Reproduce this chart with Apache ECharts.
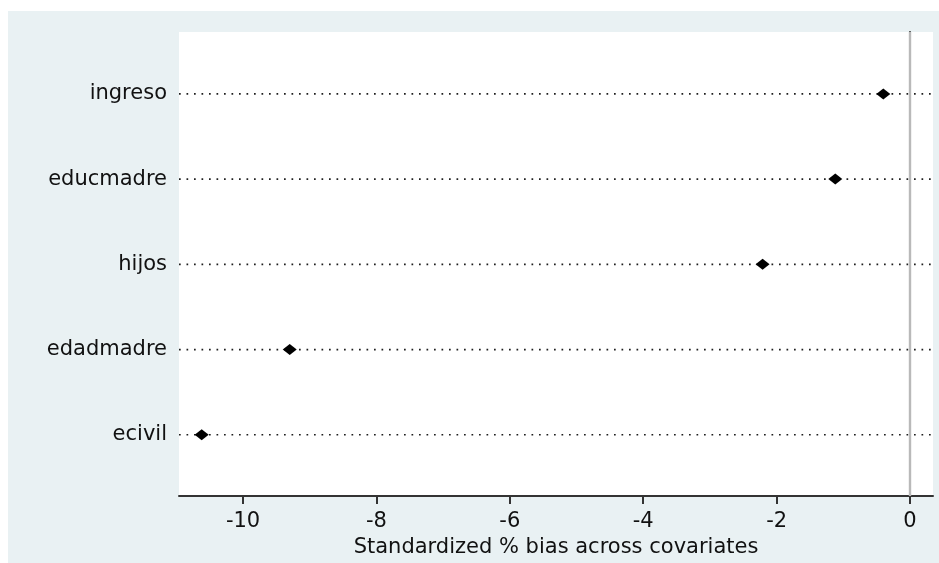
<!DOCTYPE html>
<html>
<head>
<meta charset="utf-8">
<title>Standardized % bias across covariates</title>
<script src="https://cdn.jsdelivr.net/npm/echarts@6/dist/echarts.min.js"></script>
<style>
  html, body { margin: 0; padding: 0; background: #ffffff; overflow: hidden; }
  #chart { width: 939px; height: 563px; }
</style>
</head>
<body>
<div id="chart"></div>
<script>
// Covariates, listed top to bottom
const categories = ['ingreso', 'educmadre', 'hijos', 'edadmadre', 'ecivil'];
// Standardized % bias for each covariate
const biasValues = [-0.40, -1.12, -2.21, -9.30, -10.62];
// X-axis tick values
const xTicks = [-10, -8, -6, -4, -2, 0];
const xTitle = 'Standardized % bias across covariates';

// Axis ranges
const xMin = -10.96, xMax = 0.345;
const yMin = 0.28, yMax = 5.7265;

const n = categories.length;
const rowPos = categories.map((c, i) => n - i);

const textColor = '#111111';
const fontFamily = '"DejaVu Sans", sans-serif';

// Dotted guide line across the plot for each covariate row
const dotSeries = categories.map((c, i) => ({
  type: 'line',
  silent: true,
  symbol: 'none',
  z: 2,
  lineStyle: { color: '#1e1e1e', width: 1.7, type: [1.7, 5.8] },
  data: [[xMin, rowPos[i]], [xMax, rowPos[i]]]
}));

const chart = echarts.init(document.getElementById('chart'));
chart.setOption({
  animation: false,
  graphic: [{
    type: 'rect',
    z: -100,
    silent: true,
    shape: { x: 8, y: 11, width: 931, height: 552 },
    style: { fill: '#E9F1F3' }
  }],
  grid: {
    left: 179, right: 6, top: 32, bottom: 64,
    show: true, backgroundColor: '#ffffff', borderWidth: 0
  },
  xAxis: {
    type: 'value',
    min: xMin, max: xMax,
    name: xTitle,
    nameLocation: 'middle',
    nameGap: 27,
    nameTextStyle: { color: textColor, fontFamily: fontFamily, fontSize: 21 },
    axisLine: { show: true, lineStyle: { color: '#333333', width: 2 } },
    axisTick: { show: true, length: 8, customValues: xTicks, lineStyle: { color: '#333333', width: 2 } },
    axisLabel: { customValues: xTicks, margin: 15, color: textColor, fontFamily: fontFamily, fontSize: 21 },
    splitLine: { show: false }
  },
  yAxis: {
    type: 'value',
    min: yMin, max: yMax,
    axisLine: { show: true, lineStyle: { color: '#333333', width: 2 } },
    axisTick: { show: false },
    axisLabel: {
      customValues: rowPos,
      margin: 12,
      color: textColor, fontFamily: fontFamily, fontSize: 21,
      formatter: v => categories[n - Math.round(v)] || ''
    },
    splitLine: { show: false }
  },
  series: [
    {
      type: 'line',
      silent: true,
      symbol: 'none',
      z: 1,
      data: [],
      markLine: {
        silent: true,
        symbol: 'none',
        label: { show: false },
        lineStyle: { color: '#b9b9b9', width: 2.4, type: 'solid' },
        data: [{ xAxis: 0 }]
      }
    },
    ...dotSeries,
    {
      type: 'scatter',
      z: 5,
      symbol: 'diamond',
      symbolSize: [14, 11],
      itemStyle: { color: '#000000', opacity: 1 },
      emphasis: { disabled: true },
      data: biasValues.map((v, i) => [v, rowPos[i]])
    }
  ]
});
</script>
</body>
</html>
